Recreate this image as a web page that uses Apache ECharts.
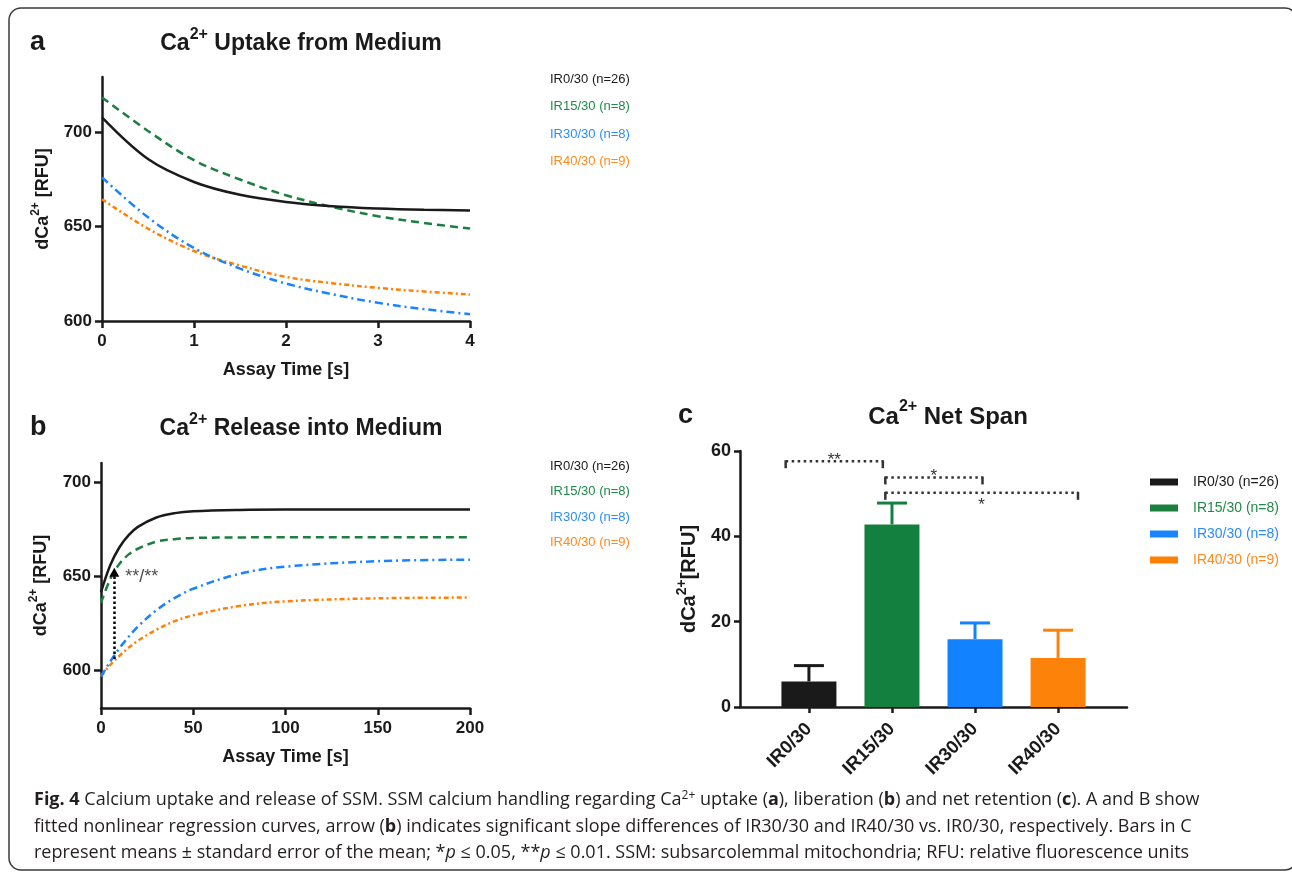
<!DOCTYPE html>
<html>
<head>
<meta charset="utf-8">
<script src="https://cdn.jsdelivr.net/npm/echarts@6/dist/echarts.min.js"></script>
<style>
html, body { margin: 0; padding: 0; background: #fff; }
#chart { width: 1292px; height: 873px; }
</style>
</head>
<body>
<div id="chart"></div>
<script>
// groups and legend names
var groups = ['IR0/30', 'IR15/30', 'IR30/30', 'IR40/30'];
var legendNames = ['IR0/30 (n=26)', 'IR15/30 (n=8)', 'IR30/30 (n=8)', 'IR40/30 (n=9)'];

// panel a: uptake curves, time in s
var timeA = [0, 0.5, 1, 1.5, 2, 2.5, 3, 3.5, 4];
var uptakeIR0 = [707.6, 685.6, 673.5, 666.7, 662.9, 660.7, 659.5, 658.8, 658.4];
var uptakeIR15 = [718.2, 700.5, 685.0, 674.8, 666.5, 660.3, 655.4, 651.8, 648.9];
var uptakeIR30 = [675.9, 654.8, 638.6, 627.7, 619.8, 614.2, 609.6, 606.3, 603.6];
var uptakeIR40 = [664.4, 648.8, 637.0, 629.3, 623.3, 620.0, 617.5, 615.6, 614.0];

// panel b: release curves, time in s
var timeB = [0, 5, 10, 15, 20, 30, 40, 50, 75, 100, 150, 200];
var releaseIR0 = [641.5, 655.7, 665.3, 671.7, 676.1, 681.1, 683.4, 684.4, 685.1, 685.3, 685.3, 685.3];
var releaseIR15 = [635.7, 648.4, 656.5, 661.5, 664.5, 668.3, 669.6, 670.2, 670.5, 670.6, 670.6, 670.6];
var releaseIR30 = [596.6, 604.7, 611.7, 617.8, 623.2, 631.9, 638.4, 643.3, 651.2, 655.0, 657.9, 658.7];
var releaseIR40 = [597.0, 602.8, 607.7, 612.0, 615.7, 621.5, 626.1, 629.2, 634.1, 636.6, 638.2, 638.6];

// slope arrow in panel b
var slopeArrowX = 7.2;
var slopeArrowFrom = 606;
var slopeArrowTo = 652;
var slopeArrowLabel = '**/**';

// panel c: net span, mean and SEM
var netSpanMean = [6.0, 42.8, 15.9, 11.5];
var netSpanSem = [3.7, 5.0, 3.8, 6.5];

// significance brackets in panel c (x in category units)
var bracketFrom = [-0.28, 0.92, 0.92];
var bracketTo = [0.89, 2.09, 3.24];
var bracketLevel = [57.6, 53.8, 50.2];
var bracketText = ['**', '*', '*'];
var bracketTextBelow = [false, false, true];

var ticksAB = [600, 650, 700];

var lineColors = ['#1a1a1a', '#1b7f3e', '#1a84ff', '#ff8103'];
var barColors = ['#1a1a1a', '#138040', '#1282fe', '#fd8209'];
var legendColors = ['#1a1a1a', '#1f8a47', '#2a8cff', '#ff8a1c'];
var lineDashes = ['solid', [8, 5], [8, 4, 2, 4], [5, 3, 2, 3]];

var FONT = 'Liberation Sans, Arial, sans-serif';
var CAPFONT = 'Open Sans';
var INK = '#1a1a1a';

var myChart = echarts.init(document.getElementById('chart'));

function axisBase(gridIndex) {
    return {
        gridIndex: gridIndex,
        type: 'value',
        splitLine: {show: false},
        axisLine: {show: true, onZero: false, lineStyle: {color: INK, width: 2.5}},
        axisTick: {show: true, length: 7, lineStyle: {color: INK, width: 2.5}},
        axisLabel: {color: INK, fontSize: 17, fontWeight: 'bold', fontFamily: FONT, margin: 10},
        nameTextStyle: {color: INK, fontSize: 18, fontWeight: 'bold', fontFamily: FONT}
    };
}

function merge(a, b) {
    for (var k in b) {
        if (a[k] && typeof a[k] === 'object' && !Array.isArray(a[k]) && typeof b[k] === 'object' && !Array.isArray(b[k])) {
            merge(a[k], b[k]);
        } else {
            a[k] = b[k];
        }
    }
    return a;
}

function supRich(size) {
    return {
        n: {fontSize: size, fontWeight: 'bold', fontFamily: FONT, color: INK, lineHeight: Math.round(size * 1.45)},
        s: {fontSize: Math.round(size * 0.68), fontWeight: 'bold', fontFamily: FONT, color: INK, verticalAlign: 'top'}
    };
}

var xAxes = [
    merge(axisBase(0), {
        min: 0, max: 4, interval: 1,
        name: 'Assay Time [s]', nameLocation: 'middle', nameGap: 40,
        axisLabel: {margin: 12}
    }),
    merge(axisBase(1), {
        min: 0, max: 200, interval: 50,
        name: 'Assay Time [s]', nameLocation: 'middle', nameGap: 40,
        axisLabel: {margin: 12}
    }),
    merge(axisBase(2), {
        min: -0.83, max: 3.83,
        axisTick: {length: 6, customValues: [0, 1, 2, 3]},
        axisLabel: {
            customValues: [0, 1, 2, 3], rotate: 45, margin: 19, fontSize: 18.5,
            formatter: function (v) { return groups[Math.round(v)]; }
        }
    })
];

var yAxes = [
    merge(axisBase(0), {
        min: 600, max: 729,
        name: '{n|dCa}{s|2+}{n| [RFU]}', nameLocation: 'middle', nameGap: 46,
        nameTextStyle: {rich: supRich(18)},
        axisTick: {customValues: ticksAB},
        axisLabel: {customValues: ticksAB}
    }),
    merge(axisBase(1), {
        min: 580, max: 710,
        name: '{n|dCa}{s|2+}{n| [RFU]}', nameLocation: 'middle', nameGap: 47,
        nameTextStyle: {rich: supRich(18)},
        axisTick: {customValues: ticksAB},
        axisLabel: {customValues: ticksAB}
    }),
    merge(axisBase(2), {
        min: 0, max: 60, interval: 20,
        name: '{n|dCa}{s|2+}{n|[RFU]}', nameLocation: 'middle', nameGap: 36,
        nameTextStyle: {rich: supRich(20)},
        axisTick: {length: 6},
        axisLabel: {fontSize: 18, margin: 9}
    })
];

var series = [];
var uptake = [uptakeIR0, uptakeIR15, uptakeIR30, uptakeIR40];
var release = [releaseIR0, releaseIR15, releaseIR30, releaseIR40];

uptake.forEach(function (vals, i) {
    series.push({
        type: 'line', name: legendNames[i], xAxisIndex: 0, yAxisIndex: 0,
        data: timeA.map(function (t, k) { return [t, vals[k]]; }),
        showSymbol: false, smooth: 0.35,
        lineStyle: {color: lineColors[i], width: 2.5, type: lineDashes[i]},
        itemStyle: {color: lineColors[i]}, z: 4 - i
    });
});

release.forEach(function (vals, i) {
    series.push({
        type: 'line', name: legendNames[i], xAxisIndex: 1, yAxisIndex: 1,
        data: timeB.map(function (t, k) { return [t, vals[k]]; }),
        showSymbol: false, smooth: 0.35,
        lineStyle: {color: lineColors[i], width: 2.5, type: lineDashes[i]},
        itemStyle: {color: lineColors[i]}, z: 4 - i
    });
});

// arrow + label for slope difference
series.push({
    type: 'scatter', xAxisIndex: 1, yAxisIndex: 1, symbolSize: 0, silent: true, z: 10,
    data: [[slopeArrowX, slopeArrowTo]],
    label: {show: true, position: 'right', distance: 11, offset: [0, 5], formatter: slopeArrowLabel,
        color: INK, fontSize: 18, fontFamily: FONT},
    markLine: {
        silent: true, symbol: ['none', 'triangle'], symbolSize: [10, 9], precision: 3,
        lineStyle: {color: '#000', width: 2.5, type: [2.5, 2.5]},
        label: {show: false},
        data: [[{coord: [slopeArrowX, slopeArrowFrom]}, {coord: [slopeArrowX, slopeArrowTo]}]]
    }
});

// bars in panel c
netSpanMean.forEach(function (m, i) {
    series.push({
        type: 'bar', name: legendNames[i], xAxisIndex: 2, yAxisIndex: 2,
        data: [[i, m]], barWidth: 55, barGap: '-100%',
        itemStyle: {color: barColors[i]}
    });
});

// SEM error bars (upper only)
series.push({
    type: 'custom', xAxisIndex: 2, yAxisIndex: 2, silent: true, z: 5,
    encode: {x: 0, y: [1, 2]},
    data: netSpanMean.map(function (m, i) { return [i, m, m + netSpanSem[i]]; }),
    renderItem: function (params, api) {
        var p0 = api.coord([api.value(0), api.value(1)]);
        var p1 = api.coord([api.value(0), api.value(2)]);
        var col = barColors[params.dataIndex];
        return {type: 'group', children: [
            {type: 'line', shape: {x1: p0[0], y1: p0[1], x2: p1[0], y2: p1[1]}, style: {stroke: col, lineWidth: 3}},
            {type: 'line', shape: {x1: p1[0] - 15, y1: p1[1], x2: p1[0] + 15, y2: p1[1]}, style: {stroke: col, lineWidth: 3}}
        ]};
    }
});

// significance brackets
series.push({
    type: 'custom', xAxisIndex: 2, yAxisIndex: 2, silent: true, z: 6,
    encode: {x: [0, 1], y: 2},
    data: bracketFrom.map(function (f, i) { return [f, bracketTo[i], bracketLevel[i]]; }),
    renderItem: function (params, api) {
        var i = params.dataIndex;
        var a = api.coord([api.value(0), api.value(2)]);
        var b = api.coord([api.value(1), api.value(2)]);
        var stroke = '#333';
        var ty = bracketTextBelow[i] ? a[1] + 12 : a[1] - 1;
        return {type: 'group', children: [
            {type: 'line', shape: {x1: a[0], y1: a[1], x2: b[0], y2: b[1]},
                style: {stroke: stroke, lineWidth: 2.5, lineDash: [2.5, 3.5]}},
            {type: 'line', shape: {x1: a[0], y1: a[1] - 1, x2: a[0], y2: a[1] + 7}, style: {stroke: stroke, lineWidth: 2.5}},
            {type: 'line', shape: {x1: b[0], y1: b[1] - 1, x2: b[0], y2: b[1] + 7}, style: {stroke: stroke, lineWidth: 2.5}},
            {type: 'text', x: (a[0] + b[0]) / 2, y: ty,
                style: {text: bracketText[i], fill: stroke, fontSize: 17, fontFamily: FONT,
                    align: 'center', verticalAlign: 'middle'}}
        ]};
    }
});

function legendData() {
    return legendNames.map(function (n, i) { return {name: n, textStyle: {color: legendColors[i]}}; });
}

function titleRich(size) {
    return {
        t: {fontSize: size, fontWeight: 'bold', fontFamily: FONT, fill: INK, lineHeight: Math.round(size * 1.5)},
        s: {fontSize: Math.round(size * 0.68), fontWeight: 'bold', fontFamily: FONT, fill: INK, verticalAlign: 'top'}
    };
}

function textEl(x, y, text, style) {
    return {type: 'text', x: x, y: y, silent: true,
        style: merge({text: text, fill: INK, fontFamily: FONT}, style || {})};
}

var CAPSIZE = 18;
var capRich = {
    r: {fontSize: CAPSIZE, fontFamily: CAPFONT, fill: '#231f20', lineHeight: 26},
    b: {fontWeight: 'bold', fontSize: CAPSIZE, fontFamily: CAPFONT, fill: '#231f20', lineHeight: 26},
    i: {fontStyle: 'italic', fontSize: CAPSIZE, fontFamily: CAPFONT, fill: '#231f20', lineHeight: 26},
    sup: {fontSize: 12, fontFamily: CAPFONT, fill: '#231f20', verticalAlign: 'top', padding: [3, 0, 0, 0]}
};
var capStyle = {fontSize: CAPSIZE, fontFamily: CAPFONT, fill: '#231f20', rich: capRich, align: 'left', verticalAlign: 'middle'};

var captionLines = [
    '{b|Fig. 4}{r| Calcium uptake and release of SSM. SSM calcium handling regarding Ca}{sup|2+}{r| uptake (}{b|a}{r|), liberation (}{b|b}{r|) and net retention (}{b|c}{r|). A and B show}',
    '{r|fitted nonlinear regression curves, arrow (}{b|b}{r|) indicates significant slope differences of IR30/30 and IR40/30 vs. IR0/30, respectively. Bars in C}',
    '{r|represent means \u00b1 standard error of the mean; *}{i|p}{r| \u2264 0.05, **}{i|p}{r| \u2264 0.01. SSM: subsarcolemmal mitochondria; RFU: relative fluorescence units}'
];

var option = {
    animation: false,
    backgroundColor: '#fff',
    grid: [
        {left: 102, top: 77, width: 368, height: 244, outerBoundsMode: 'none'},
        {left: 101, top: 463, width: 369, height: 245, outerBoundsMode: 'none'},
        {left: 740, top: 451, width: 387, height: 256, outerBoundsMode: 'none'}
    ],
    xAxis: xAxes,
    yAxis: yAxes,
    legend: [
        {left: 540, top: 67, orient: 'vertical', icon: 'none', itemWidth: 0, itemHeight: 14, itemGap: 14,
            selectedMode: false, data: legendData(), textStyle: {fontSize: 13, fontFamily: FONT}},
        {left: 540, top: 454, orient: 'vertical', icon: 'none', itemWidth: 0, itemHeight: 14, itemGap: 12,
            selectedMode: false, data: legendData(), textStyle: {fontSize: 13, fontFamily: FONT}},
        {left: 1145, top: 470, orient: 'vertical', icon: 'rect', itemWidth: 28, itemHeight: 7, itemGap: 12,
            selectedMode: false, data: legendData(), textStyle: {fontSize: 14, fontFamily: FONT, padding: [0, 0, 0, 10]}}
    ],
    graphic: [
        {type: 'rect', silent: true, shape: {x: 9, y: 8, width: 1288, height: 862, r: 12},
            style: {fill: 'none', stroke: '#3a3a3a', lineWidth: 1.5}},
        textEl(30, 43, 'a', {fontSize: 27, fontWeight: 'bold', verticalAlign: 'middle'}),
        textEl(30, 428, 'b', {fontSize: 27, fontWeight: 'bold', verticalAlign: 'middle'}),
        textEl(678, 416, 'c', {fontSize: 27, fontWeight: 'bold', verticalAlign: 'middle'}),
        textEl(301, 44, '{t|Ca}{s|2+}{t| Uptake from Medium}', {rich: titleRich(23), align: 'center', verticalAlign: 'middle'}),
        textEl(301, 429, '{t|Ca}{s|2+}{t| Release into Medium}', {rich: titleRich(23), align: 'center', verticalAlign: 'middle'}),
        textEl(948, 417, '{t|Ca}{s|2+}{t| Net Span}', {rich: titleRich(24), align: 'center', verticalAlign: 'middle'}),
        textEl(34, 800, captionLines[0], capStyle),
        textEl(34, 827, captionLines[1], capStyle),
        textEl(34, 853, captionLines[2], capStyle)
    ],
    series: series
};

myChart.setOption(option);
</script>
</body>
</html>
